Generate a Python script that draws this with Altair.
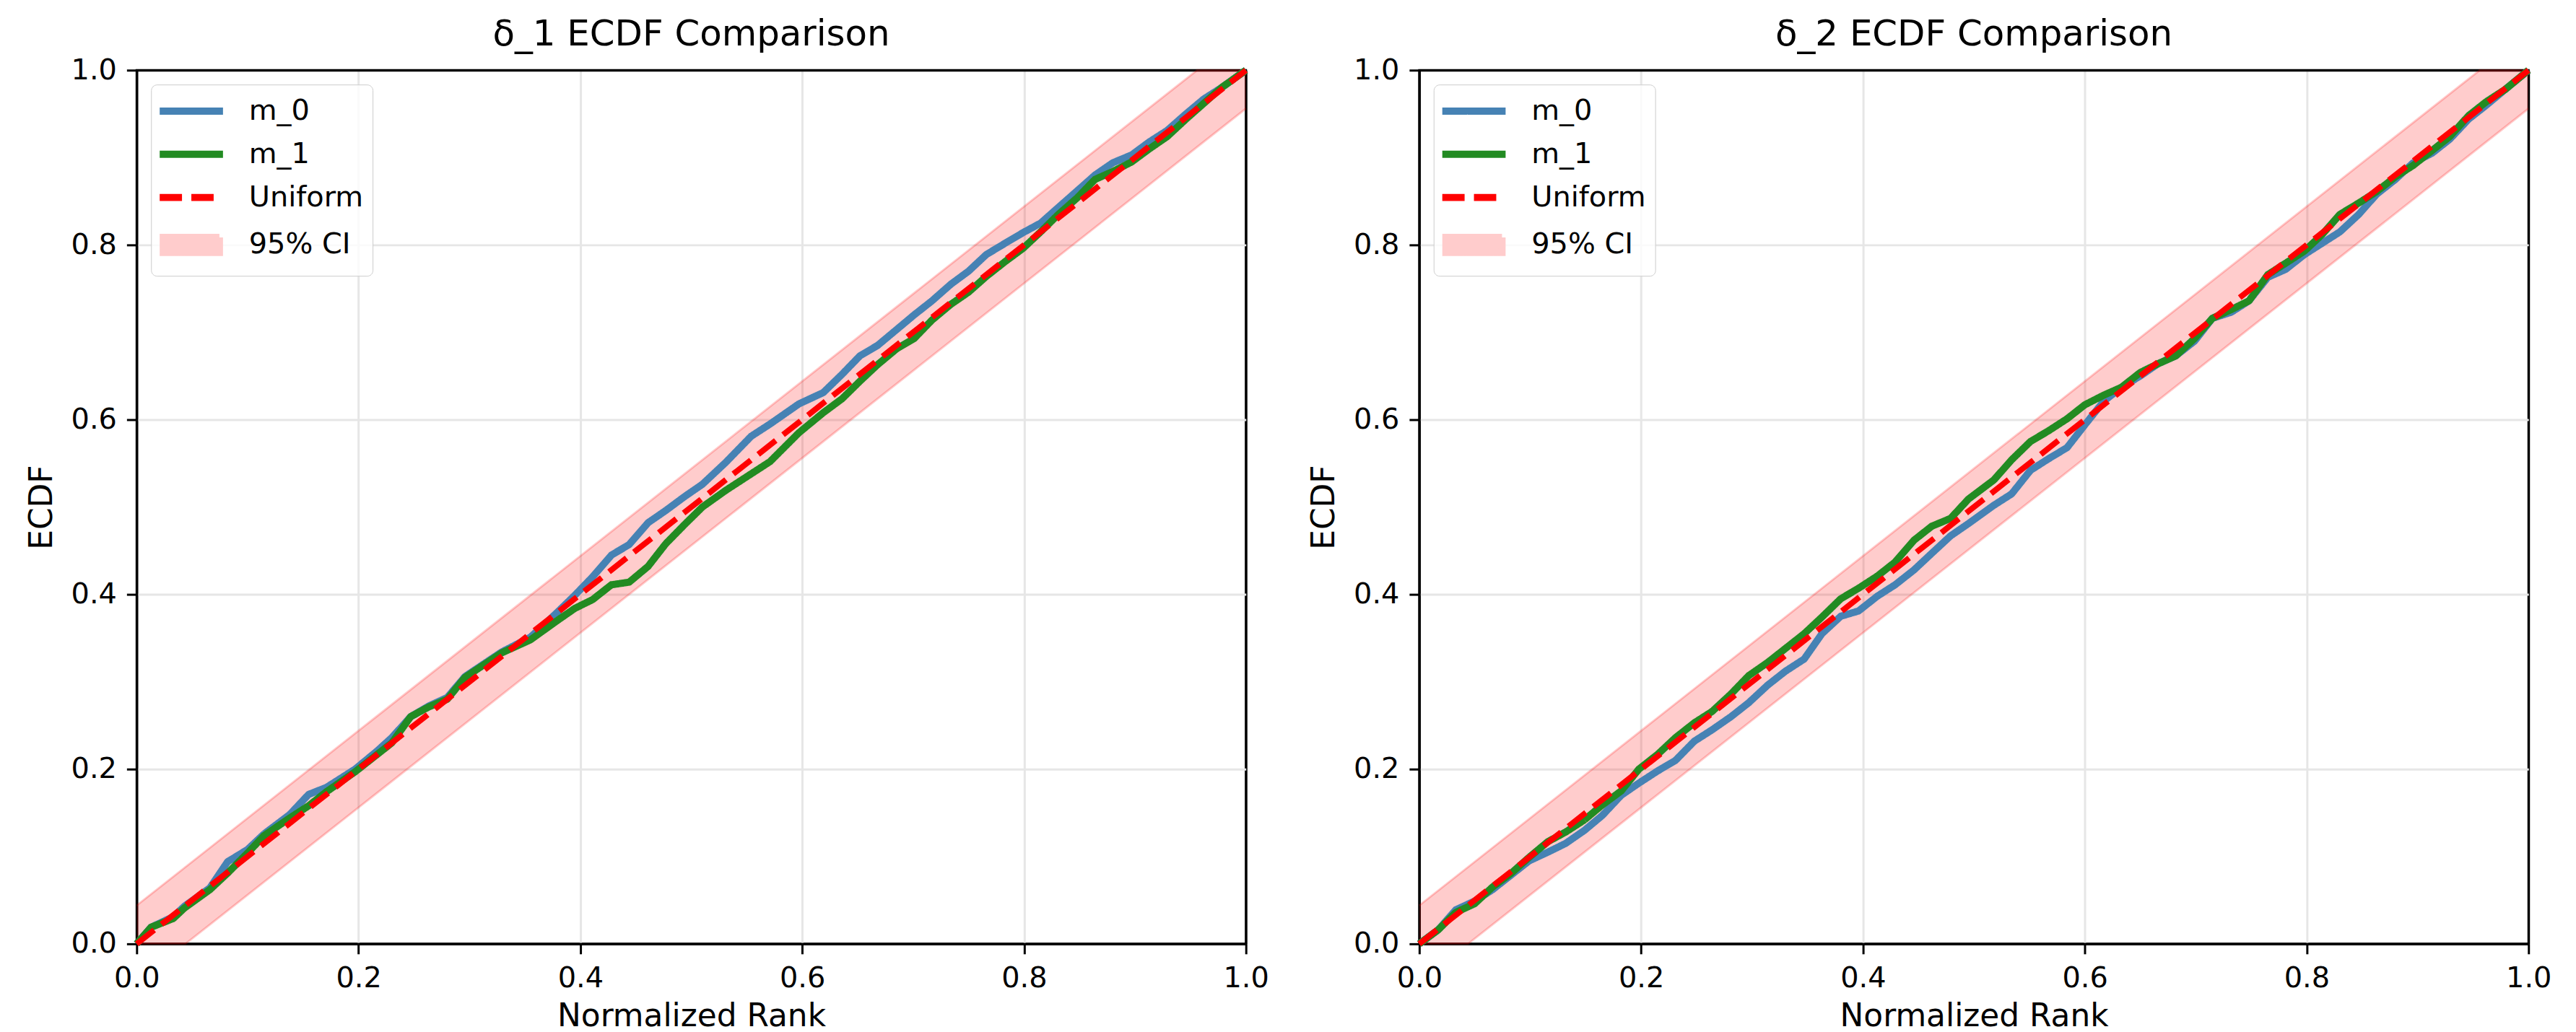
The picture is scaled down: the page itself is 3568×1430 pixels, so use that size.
import altair as alt
import pandas as pd

# ---------------- data ----------------
# normalized rank grid and ECDF values, panel delta_1
rank_1 = [0.0, 0.013, 0.033, 0.043, 0.066, 0.082, 0.1, 0.115, 0.138, 0.155, 0.171, 0.197,
          0.217, 0.23, 0.247, 0.263, 0.28, 0.296, 0.329, 0.355, 0.378, 0.395, 0.411, 0.428,
          0.444, 0.461, 0.477, 0.494, 0.51, 0.531, 0.554, 0.571, 0.597, 0.619, 0.636, 0.652,
          0.668, 0.685, 0.701, 0.717, 0.734, 0.75, 0.766, 0.783, 0.799, 0.815, 0.831, 0.848,
          0.864, 0.88, 0.897, 0.913, 0.929, 0.946, 0.962, 0.978, 1.0]
m0_1 = [0.0, 0.019, 0.031, 0.043, 0.064, 0.094, 0.108, 0.126, 0.148, 0.171, 0.179, 0.200,
        0.221, 0.236, 0.260, 0.272, 0.282, 0.306, 0.334, 0.351, 0.378, 0.399, 0.420, 0.445,
        0.457, 0.482, 0.496, 0.512, 0.526, 0.551, 0.581, 0.595, 0.618, 0.631, 0.652, 0.673,
        0.685, 0.703, 0.720, 0.736, 0.755, 0.770, 0.789, 0.802, 0.814, 0.825, 0.843, 0.862,
        0.880, 0.894, 0.903, 0.918, 0.931, 0.950, 0.967, 0.980, 1.0]
m1_1 = [0.0, 0.019, 0.029, 0.041, 0.062, 0.081, 0.104, 0.124, 0.144, 0.158, 0.174, 0.197,
        0.217, 0.230, 0.260, 0.271, 0.280, 0.305, 0.333, 0.348, 0.369, 0.384, 0.394, 0.411,
        0.414, 0.432, 0.458, 0.480, 0.500, 0.519, 0.538, 0.552, 0.585, 0.608, 0.624, 0.644,
        0.663, 0.681, 0.693, 0.714, 0.732, 0.746, 0.764, 0.781, 0.796, 0.815, 0.835, 0.854,
        0.875, 0.884, 0.895, 0.910, 0.924, 0.944, 0.962, 0.980, 1.0]

# normalized rank grid and ECDF values, panel delta_2
rank_2 = [0.0, 0.017, 0.033, 0.05, 0.066, 0.083, 0.099, 0.116, 0.132, 0.149, 0.165, 0.182,
          0.198, 0.215, 0.231, 0.248, 0.264, 0.281, 0.297, 0.314, 0.33, 0.347, 0.363, 0.38,
          0.396, 0.413, 0.429, 0.446, 0.462, 0.479, 0.495, 0.518, 0.534, 0.551, 0.567, 0.584,
          0.6, 0.617, 0.633, 0.65, 0.666, 0.682, 0.699, 0.715, 0.732, 0.748, 0.765, 0.781,
          0.798, 0.814, 0.83, 0.847, 0.863, 0.88, 0.896, 0.913, 0.929, 0.946, 0.962, 0.979, 1.0]
m0_2 = [0.0, 0.016, 0.039, 0.049, 0.062, 0.079, 0.095, 0.105, 0.115, 0.130, 0.147, 0.170,
        0.184, 0.198, 0.210, 0.232, 0.245, 0.260, 0.276, 0.296, 0.312, 0.326, 0.355, 0.375,
        0.381, 0.398, 0.411, 0.428, 0.447, 0.467, 0.481, 0.502, 0.515, 0.542, 0.555, 0.568,
        0.594, 0.621, 0.637, 0.650, 0.664, 0.673, 0.690, 0.716, 0.723, 0.736, 0.763, 0.772,
        0.789, 0.802, 0.815, 0.835, 0.858, 0.875, 0.894, 0.905, 0.921, 0.944, 0.960, 0.978, 1.0]
m1_2 = [0.0, 0.016, 0.036, 0.046, 0.065, 0.081, 0.099, 0.117, 0.128, 0.142, 0.159, 0.175,
        0.200, 0.217, 0.236, 0.253, 0.266, 0.286, 0.307, 0.322, 0.338, 0.355, 0.374, 0.395,
        0.407, 0.421, 0.437, 0.462, 0.478, 0.487, 0.509, 0.531, 0.554, 0.575, 0.587, 0.601,
        0.617, 0.628, 0.637, 0.654, 0.664, 0.673, 0.693, 0.716, 0.726, 0.736, 0.766, 0.779,
        0.793, 0.812, 0.835, 0.848, 0.861, 0.878, 0.891, 0.908, 0.924, 0.948, 0.964, 0.978, 1.0]

# reference uniform CDF and its 95% confidence band
uniform_rank = [0.0, 1.0]
ci_rank = [0.0, 0.044, 0.956, 1.0]
ci_lower = [0.0, 0.0, 0.912, 0.956]
ci_upper = [0.044, 0.088, 1.0, 1.0]

tick_values = [0.0, 0.2, 0.4, 0.6, 0.8, 1.0]

# ---------------- styling ----------------
SERIES = ["m_0", "m_1", "Uniform", "95% CI"]
SERIES_COLORS = ["#4682b4", "#228b22", "#ff0000", "#ffcccc"]
SERIES_DASHES = [[1, 0], [1, 0], [31, 13], [1, 0]]
FONT = "DejaVu Sans"
PANEL_W, PANEL_H = 1542, 1215

X_SCALE = alt.Scale(domain=[0, 1], nice=False, zero=False)
Y_SCALE = alt.Scale(domain=[0, 1], nice=False, zero=False)
X_AXIS = alt.Axis(title="Normalized Rank", values=tick_values, format=".1f",
                  labelFlush=False, titlePadding=11)
Y_AXIS = alt.Axis(title="ECDF", values=tick_values, format=".1f",
                  labelFlush=False, titlePadding=18)

# grid lines on the frame edges are drawn black so they act as the box outline
EDGE_GRID = {"condition": {"test": "datum.value === 0 || datum.value === 1", "value": "black"},
             "value": "#e6e6e6"}

IS_CI = "datum.value === '95% CI'"


def make_legend():
    return alt.Legend(
        title=None,
        orient="top-left",
        offset=20,
        padding=12,
        rowPadding=15,
        fillColor="rgba(255,255,255,0.8)",
        strokeColor="#cccccc",
        cornerRadius=8,
        labelFont=FONT,
        labelFontSize=40,
        labelColor="black",
        labelOffset=55,
        labelLimit=400,
        # line glyph for the curves, filled patch for the band
        symbolType={"expr": IS_CI + " ? 'M-1.95,-0.52H1.95V0.52H-1.95Z' : 'M-2.2,0H2.2'"},
        symbolFillColor={"expr": IS_CI + " ? '#ffcccc' : 'transparent'"},
        symbolSize=1600,
        symbolStrokeWidth=10,
        symbolOffset=19,
    )


def make_panel(title, rank, m0, m1):
    curves = pd.DataFrame({
        "rank": list(rank) * 2,
        "ecdf": list(m0) + list(m1),
        "series": ["m_0"] * len(rank) + ["m_1"] * len(rank),
    })
    uniform = pd.DataFrame({"rank": uniform_rank, "ecdf": uniform_rank,
                            "series": ["Uniform"] * len(uniform_rank)})
    band = pd.DataFrame({"rank": ci_rank, "lower": ci_lower, "upper": ci_upper})

    legend = make_legend()
    color = alt.Color("series:N", scale=alt.Scale(domain=SERIES, range=SERIES_COLORS),
                      legend=legend)
    dash = alt.StrokeDash("series:N", scale=alt.Scale(domain=SERIES, range=SERIES_DASHES),
                          legend=legend)

    x = alt.X("rank:Q", scale=X_SCALE, axis=X_AXIS)

    band_area = alt.Chart(band).mark_area(color="#ff0000", opacity=0.2).encode(
        x=x,
        y=alt.Y("lower:Q", scale=Y_SCALE, axis=Y_AXIS),
        y2="upper:Q",
    )
    band_upper = alt.Chart(band).mark_line(color="#ff0000", opacity=0.2, strokeWidth=3).encode(
        x=x, y=alt.Y("upper:Q", scale=Y_SCALE, axis=Y_AXIS))
    band_lower = alt.Chart(band).mark_line(color="#ff0000", opacity=0.2, strokeWidth=3).encode(
        x=x, y=alt.Y("lower:Q", scale=Y_SCALE, axis=Y_AXIS))

    ecdf_lines = alt.Chart(curves).mark_line(strokeWidth=10, strokeJoin="round").encode(
        x=x,
        y=alt.Y("ecdf:Q", scale=Y_SCALE, axis=Y_AXIS),
        color=color,
        strokeDash=dash,
    )
    uniform_line = alt.Chart(uniform).mark_line(strokeWidth=8, strokeCap="butt").encode(
        x=x,
        y=alt.Y("ecdf:Q", scale=Y_SCALE, axis=Y_AXIS),
        color=color,
        strokeDash=dash,
    )

    return alt.layer(band_area, band_upper, band_lower, ecdf_lines, uniform_line).properties(
        width=PANEL_W,
        height=PANEL_H,
        view=alt.ViewBackground(stroke="black", strokeWidth=3),
        title=alt.TitleParams(title, font=FONT, fontSize=50, fontWeight="normal",
                              color="black", offset=-36, baseline="alphabetic",
                              anchor="middle"),
    )


left = make_panel("δ_1 ECDF Comparison", rank_1, m0_1, m1_1)
right = make_panel("δ_2 ECDF Comparison", rank_2, m0_2, m1_2)

chart = (
    alt.hconcat(left, right, spacing=51)
    .resolve_scale(color="independent", strokeDash="independent")
    .resolve_legend(color="independent", strokeDash="independent")
    .properties(padding={"left": 34, "top": 19, "right": 32, "bottom": 0},
                background="white")
    .configure_view(stroke="black", strokeWidth=3)
    .configure_axis(
        labelFont=FONT, labelFontSize=40, labelColor="black", labelPadding=14,
        titleFont=FONT, titleFontSize=44, titleFontWeight="normal", titleColor="black",
        tickColor="black", tickSize=14, tickWidth=3,
        domain=True, domainColor="black", domainWidth=3,
        gridColor=EDGE_GRID, gridWidth=3,
    )
)

chart.save("out.html", embed_options={"renderer": "svg", "actions": False})
